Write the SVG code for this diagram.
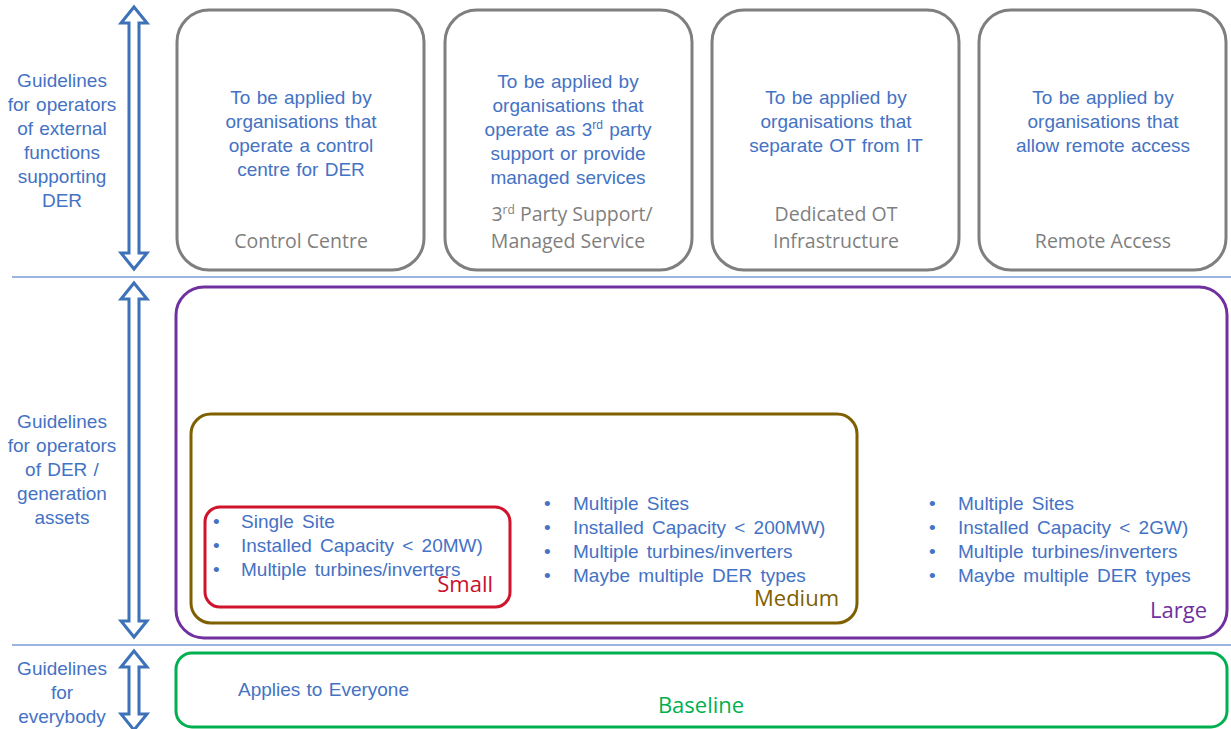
<svg xmlns="http://www.w3.org/2000/svg" width="1231" height="729" viewBox="0 0 1231 729">
<style>
.bg{fill:#fff}
.top{fill:none;stroke:#7f7f7f;stroke-width:3}
.sep{stroke:#7a9ad6;stroke-width:1.5}
.arr{fill:#fff;stroke:#3d72b8;stroke-width:3;stroke-linejoin:miter}
.b{font-family:"Liberation Sans",Arial,sans-serif;font-size:19px;fill:#4472c4;word-spacing:1px}
.w{word-spacing:3px}
.g{font-family:"Open Sans","Noto Sans",sans-serif;font-size:19.5px;fill:#7f7f7f}
.lbl{font-family:"Open Sans","Noto Sans",sans-serif;font-size:22px}
.mid{text-anchor:middle}
</style>
<rect class="bg" x="0" y="0" width="1231" height="729"/>
<g id="connectors">
<line class="sep" x1="12" y1="277" x2="1231" y2="277"/>
<line class="sep" x1="12" y1="645" x2="1231" y2="645"/>
<path class="arr" d="M134,7 L147,23 L139,23 L139,253 L147,253 L134,269 L121,253 L129,253 L129,23 L121,23 Z"/>
<path class="arr" d="M134,283 L147,299 L139,299 L139,621 L147,621 L134,637 L121,621 L129,621 L129,299 L121,299 Z"/>
<path class="arr" d="M134,651 L147,667 L139,667 L139,714 L147,714 L134,730 L121,714 L129,714 L129,667 L121,667 Z"/>
</g>
<g id="label-external">
<text class="b mid"><tspan x="62" y="87">Guidelines</tspan><tspan x="62" y="111">for operators</tspan><tspan x="62" y="135">of external</tspan><tspan x="62" y="159">functions</tspan><tspan x="62" y="183">supporting</tspan><tspan x="62" y="207">DER</tspan></text>
</g>
<g id="label-der">
<text class="b mid"><tspan x="62" y="428">Guidelines</tspan><tspan x="62" y="452">for operators</tspan><tspan x="62" y="476">of DER /</tspan><tspan x="62" y="500">generation</tspan><tspan x="62" y="524">assets</tspan></text>
</g>
<g id="label-everybody">
<text class="b mid"><tspan x="62" y="675">Guidelines</tspan><tspan x="62" y="699">for</tspan><tspan x="62" y="723">everybody</tspan></text>
</g>
<g id="control-centre">
<rect class="top" x="177" y="10" width="247" height="260" rx="32"/>
<text class="b mid"><tspan x="301" y="104">To be applied by</tspan><tspan x="301" y="128">organisations that</tspan><tspan x="301" y="152">operate a control</tspan><tspan x="301" y="176">centre for DER</tspan></text>
<text class="g mid" x="301" y="248">Control Centre</text>
</g>
<g id="third-party">
<rect class="top" x="445" y="10" width="247" height="260" rx="32"/>
<text class="b mid"><tspan x="568" y="88">To be applied by</tspan><tspan x="568" y="112">organisations that</tspan><tspan x="568" y="136">operate as 3<tspan font-size="12" dy="-7">rd</tspan><tspan dy="7"> party</tspan></tspan><tspan x="568" y="160">support or provide</tspan><tspan x="568" y="184">managed services</tspan></text>
<text class="g mid"><tspan x="572" y="221">3<tspan font-size="12" dy="-7">rd</tspan><tspan dy="7"> Party Support/</tspan></tspan><tspan x="568" y="248">Managed Service</tspan></text>
</g>
<g id="dedicated-ot">
<rect class="top" x="712" y="10" width="247" height="260" rx="32"/>
<text class="b mid"><tspan x="836" y="104">To be applied by</tspan><tspan x="836" y="128">organisations that</tspan><tspan x="836" y="152">separate OT from IT</tspan></text>
<text class="g mid"><tspan x="836" y="221">Dedicated OT</tspan><tspan x="836" y="248">Infrastructure</tspan></text>
</g>
<g id="remote-access">
<rect class="top" x="979" y="10" width="247" height="260" rx="32"/>
<text class="b mid"><tspan x="1103" y="104">To be applied by</tspan><tspan x="1103" y="128">organisations that</tspan><tspan x="1103" y="152">allow remote access</tspan></text>
<text class="g mid" x="1103" y="248">Remote Access</text>
</g>
<g id="large">
<rect x="176" y="287" width="1051" height="351" rx="28" fill="none" stroke="#7030a0" stroke-width="3"/>
<text class="b w"><tspan x="929" y="510">•</tspan><tspan x="958" y="510">Multiple Sites</tspan><tspan x="929" y="534">•</tspan><tspan x="958" y="534">Installed Capacity &lt; 2GW)</tspan><tspan x="929" y="558">•</tspan><tspan x="958" y="558">Multiple turbines/inverters</tspan><tspan x="929" y="582">•</tspan><tspan x="958" y="582">Maybe multiple DER types</tspan></text>
<text class="lbl" x="1207" y="618" text-anchor="end" fill="#7030a0">Large</text>
</g>
<g id="medium">
<rect x="191" y="414" width="666" height="209" rx="20" fill="none" stroke="#7f6000" stroke-width="3"/>
<text class="b w"><tspan x="544" y="510">•</tspan><tspan x="573" y="510">Multiple Sites</tspan><tspan x="544" y="534">•</tspan><tspan x="573" y="534">Installed Capacity &lt; 200MW)</tspan><tspan x="544" y="558">•</tspan><tspan x="573" y="558">Multiple turbines/inverters</tspan><tspan x="544" y="582">•</tspan><tspan x="573" y="582">Maybe multiple DER types</tspan></text>
<text class="lbl" x="839" y="606" text-anchor="end" fill="#7f6000">Medium</text>
</g>
<g id="small">
<rect x="205" y="507" width="305" height="100" rx="15" fill="none" stroke="#d0142c" stroke-width="3"/>
<text class="b w"><tspan x="213" y="528">•</tspan><tspan x="241" y="528">Single Site</tspan><tspan x="213" y="552">•</tspan><tspan x="241" y="552">Installed Capacity &lt; 20MW)</tspan><tspan x="213" y="576">•</tspan><tspan x="241" y="576">Multiple turbines/inverters</tspan></text>
<text class="lbl" x="493" y="592" text-anchor="end" fill="#c8102e">Small</text>
</g>
<g id="baseline">
<rect x="176" y="653" width="1051" height="74" rx="16" fill="none" stroke="#00b050" stroke-width="3"/>
<text class="b" x="238" y="696">Applies to Everyone</text>
<text class="lbl" x="701" y="713" text-anchor="middle" fill="#00b050">Baseline</text>
</g>
</svg>
